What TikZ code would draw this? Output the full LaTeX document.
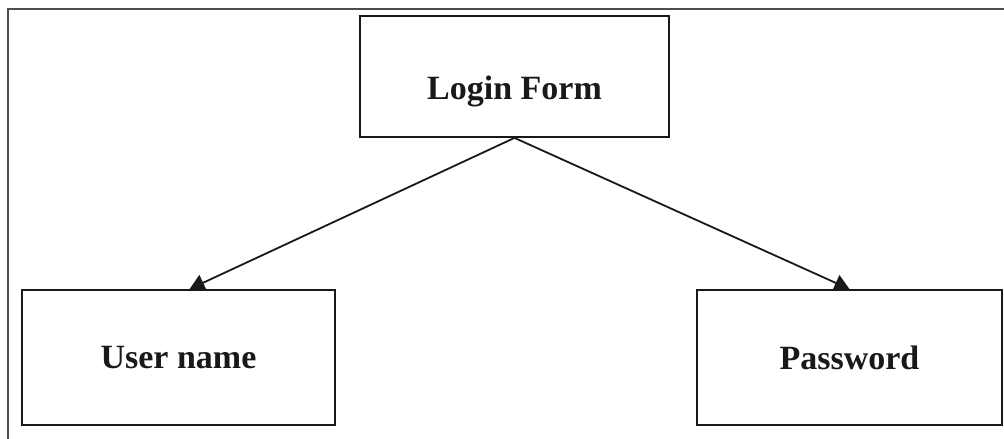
\documentclass[tikz,border=0pt]{standalone}
\usepackage{fontspec}
\setmainfont{Liberation Serif}
\usetikzlibrary{arrows.meta, positioning}

\tikzset{
    formbox/.style={draw=black!90, line width=1.8pt, rectangle, inner sep=0pt,
        font=\fontsize{34}{40}\selectfont\bfseries, text=black!90},
    link/.style={draw=black!90, line width=1.8pt, -{Triangle[length=15pt, width=17pt]}}
}

\begin{document}
\begin{tikzpicture}[x=1pt, y=-1pt]

            \useasboundingbox (0,0) rectangle (1004,439);

            % outer frame
            \draw[black!70, line width=2pt] (1004,9) -- (8,9) -- (8,439);

            \node[formbox, minimum width=309pt, minimum height=121pt,
                text height=52pt, text depth=7pt] (login) at (514.5,76.5) {Login Form};
            \node[formbox, minimum width=313pt, minimum height=135pt] (user) at (178.5,357.5) {User name};
            \node[formbox, minimum width=305pt, minimum height=135pt] (pass) at (849.5,357.5) {Password};

            \draw[link] (login.south) -- ([xshift=11pt]user.north);
            \draw[link] (login.south) -- (pass.north);

        \end{tikzpicture}
\end{document}
